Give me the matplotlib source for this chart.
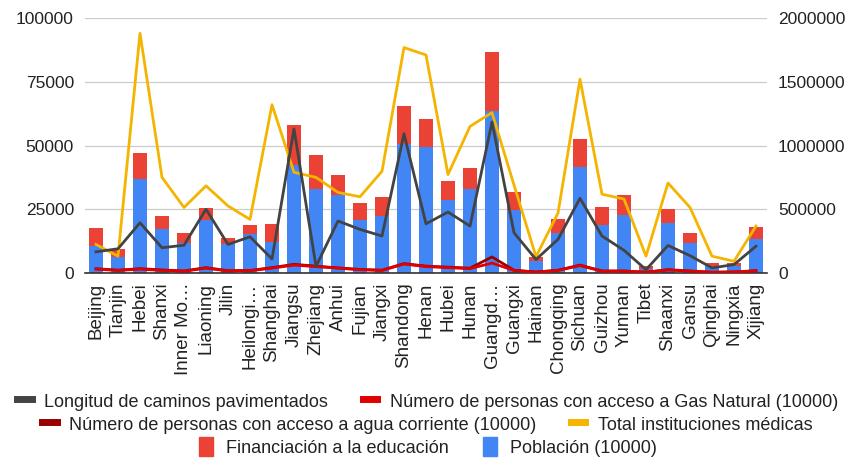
import matplotlib
matplotlib.use('Agg')
import matplotlib.pyplot as plt
import numpy as np
from matplotlib.lines import Line2D
from matplotlib.patches import Patch

plt.rcParams['font.family'] = ['Liberation Sans', 'DejaVu Sans']

# ===== DATOS =====
provincias = ['Beijing', 'Tianjin', 'Hebei', 'Shanxi', 'Inner Mo…', 'Liaoning', 'Jilin',
              'Heilongi…', 'Shanghai', 'Jiangsu', 'Zhejiang', 'Anhui', 'Fujian', 'Jiangxi',
              'Shandong', 'Henan', 'Hubei', 'Hunan', 'Guangd…', 'Guangxi', 'Hainan',
              'Chongqing', 'Sichuan', 'Guizhou', 'Yunnan', 'Tibet', 'Shaanxi', 'Gansu',
              'Qinghai', 'Ningxia', 'Xijiang']

poblacion = [10500, 6300, 36800, 17100, 11800, 20700, 11400, 15400, 12200, 42300,
             32900, 30500, 20700, 22200, 50400, 49300, 28700, 32900, 63400, 24700,
             4900, 15800, 41700, 18800, 22900, 1600, 19500, 11700, 2600, 2600, 13200]
total_barra = [17600, 9500, 47000, 22200, 15800, 25300, 13900, 18700, 19300, 58000,
               46300, 38600, 27500, 29900, 65500, 60300, 36200, 41000, 86700, 31600,
               6200, 21000, 52600, 25700, 30400, 2900, 25000, 15800, 3900, 4100, 18000]
financiacion = [t - p for t, p in zip(total_barra, poblacion)]

# eje derecho (0 - 2000000)
caminos = [166000, 190000, 394000, 198000, 218000, 500000, 224000, 284000, 110000, 1130000,
           52000, 408000, 342000, 290000, 1092000, 386000, 478000, 368000, 1184000, 316000,
           106000, 264000, 586000, 290000, 178000, 26000, 216000, 136000, 40000, 66000, 210000]

instituciones = [11200, 6600, 94000, 37500, 25700, 34200, 26300, 21000, 66000, 39500,
                 37500, 31600, 29900, 39900, 88400, 85500, 38600, 57500, 62900, 34500,
                 6400, 23500, 76000, 30900, 29000, 6600, 35300, 25700, 6600, 4600, 18400]

gas_natural = [1500, 1000, 1500, 1000, 700, 1900, 800, 900, 1900, 3100,
               2500, 1900, 1300, 1000, 3500, 2500, 2100, 1700, 3900, 1000,
               300, 1000, 2900, 700, 700, 300, 1200, 700, 300, 400, 800]
agua = [1700, 1100, 1700, 1200, 800, 2100, 900, 1000, 2100, 3400,
        2700, 2000, 1400, 1100, 3700, 2700, 2300, 1900, 6300, 1100,
        400, 1100, 3100, 800, 800, 300, 1300, 800, 300, 400, 900]

AZUL = '#4285f4'
ROJO = '#ea4335'
AMARILLO = '#f4b400'
GRIS = '#434343'
ROJO_LINEA = '#e00000'
ROJO_OSCURO = '#990000'
TEXTO = '#222222'

x = np.arange(len(provincias))

fig = plt.figure(figsize=(8.5, 4.62), dpi=100)
ax = fig.add_axes([85 / 850, 1 - 273 / 462, 682 / 850, 255 / 462])
ax2 = ax.twinx()

ax.bar(x, poblacion, width=0.68, color=AZUL, zorder=2)
ax.bar(x, financiacion, bottom=poblacion, width=0.68, color=ROJO, zorder=2)
ax.plot(x, agua, color=ROJO_OSCURO, lw=2, zorder=3)
ax.plot(x, gas_natural, color=ROJO_LINEA, lw=2, zorder=3)
ax.plot(x, instituciones, color=AMARILLO, lw=2, zorder=4)
ax2.plot(x, caminos, color=GRIS, lw=2, zorder=4)

ax.set_xlim(-0.5, len(provincias) - 0.5)
ax.set_ylim(0, 100000)
ax2.set_ylim(0, 2000000)
ax.grid(True, axis='y', color='#cccccc', lw=0.9, zorder=0)

for a in (ax, ax2):
    for s in a.spines.values():
        s.set_visible(False)
    a.tick_params(axis='y', length=0, labelsize=12.5, labelcolor=TEXTO, pad=8)
ax.spines['bottom'].set_visible(True)
ax.spines['bottom'].set_color('#333333')
ax.spines['bottom'].set_linewidth(1.2)
ax2.patch.set_visible(False)
ax.set_zorder(1)
ax2.set_zorder(2)

ax.set_xticks(x)
ax.set_xticklabels(provincias, rotation=90, fontsize=13.5, color=TEXTO)
ax.tick_params(axis='x', length=0, pad=7)
ax.set_yticks([0, 25000, 50000, 75000, 100000])
ax2.set_yticks([0, 500000, 1000000, 1500000, 2000000])
ax.set_yticklabels(['0', '25000', '50000', '75000', '100000'])
ax2.set_yticklabels(['0', '500000', '1000000', '1500000', '2000000'])

# ===== LEYENDA (3 filas centradas) =====
filas = [
    [(Line2D([], [], color=GRIS, lw=5), 'Longitud de caminos pavimentados'),
     (Line2D([], [], color=ROJO_LINEA, lw=5), 'Número de personas con acceso a Gas Natural (10000)')],
    [(Line2D([], [], color=ROJO_OSCURO, lw=5), 'Número de personas con acceso a agua corriente (10000)'),
     (Line2D([], [], color=AMARILLO, lw=5), 'Total instituciones médicas')],
    [(Patch(color=ROJO), 'Financiación a la educación'),
     (Patch(color=AZUL), 'Población (10000)')],
]
for i, fila in enumerate(filas):
    h, l = zip(*fila)
    leg = fig.legend(h, l, loc='center', bbox_to_anchor=(0.503, 1 - (401 + 23 * i) / 462),
                     ncol=2, frameon=False, fontsize=13, handlelength=0.8, handleheight=1.2,
                     handletextpad=0.7, columnspacing=1.9, borderpad=0)
    for t in leg.get_texts():
        t.set_color(TEXTO)

fig.savefig('out.png', dpi=100)
